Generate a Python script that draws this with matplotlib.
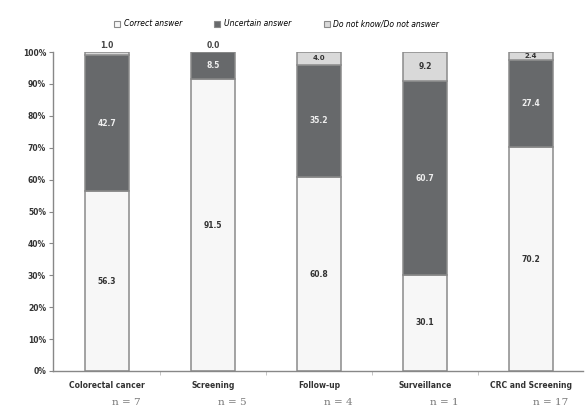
import matplotlib
matplotlib.use("Agg")
import matplotlib.pyplot as plt
import numpy as np

categories = ["Colorectal cancer", "Screening", "Follow-up", "Surveillance", "CRC and Screening"]
n_labels = ["n = 7", "n = 5", "n = 4", "n = 1", "n = 17"]
correct = [56.3, 91.5, 60.8, 30.1, 70.2]
uncertain = [42.7, 8.5, 35.2, 60.7, 27.4]
dont_know = [1.0, 0.0, 4.0, 9.2, 2.4]
series_names = ["Correct answer", "Uncertain answer", "Do not know/Do not answer"]

colors = ["#f7f7f7", "#67696b", "#d9d9d9"]
edge = "#8a8a8a"

fig = plt.figure(figsize=(5.85, 4.09), dpi=100)
ax = fig.add_axes([53 / 585, 1 - 371 / 409, 530 / 585, 319 / 409])

x = np.arange(len(categories))
w = 0.415
bottom = np.zeros(len(categories))
for vals, col in zip([correct, uncertain, dont_know], colors):
    ax.bar(x, vals, w, bottom=bottom, color=col, edgecolor=edge, linewidth=1.1)
    bottom += np.array(vals)

# value labels
for i in range(len(categories)):
    c, u, d = correct[i], uncertain[i], dont_know[i]
    ax.text(x[i], c / 2, f"{c:.1f}", ha="center", va="center", fontsize=5.5,
            color="#333333", fontweight="bold")
    ax.text(x[i], c + u / 2, f"{u:.1f}", ha="center", va="center", fontsize=5.5,
            color="#eeeeee", fontweight="bold")
    if d >= 2:
        ax.text(x[i], c + u + d / 2, f"{d:.1f}", ha="center", va="center",
                fontsize=5 if d < 5 else 5.5, color="#333333", fontweight="bold")
    else:
        ax.text(x[i], 100.6, f"{d:.1f}", ha="center", va="bottom", fontsize=5.5,
                color="#444444", fontweight="bold")

ax.set_xlim(-0.51, 4.49)
ax.set_ylim(0, 100)
ax.set_yticks(np.arange(0, 101, 10))
ax.set_yticklabels([f"{v}%" for v in range(0, 101, 10)], fontsize=5.5,
                   fontweight="bold", color="#333333")
ax.tick_params(axis="y", length=3, width=0.8, color="#888888", pad=2)
ax.set_xticks(np.arange(len(categories) - 1) + 0.5)
ax.set_xticklabels([])
ax.tick_params(axis="x", length=3, width=0.6, color="#bbbbbb")

for s in ["top", "right"]:
    ax.spines[s].set_visible(False)
for s in ["left", "bottom"]:
    ax.spines[s].set_color("#888888")
    ax.spines[s].set_linewidth(1.0)

for i, (cat, nl) in enumerate(zip(categories, n_labels)):
    ax.text(x[i], -3.0, cat, ha="center", va="top", fontsize=5.5,
            fontweight="bold", color="#333333", clip_on=False)
    ax.text(x[i] + 0.18, -8.6, nl, ha="center", va="top", fontsize=7.5,
            family="DejaVu Serif", color="#777777", clip_on=False)

handles = [plt.Rectangle((0, 0), 1, 1, facecolor=c, edgecolor=edge, linewidth=0.8)
           for c in colors]
fig.legend(handles, series_names, loc="center", bbox_to_anchor=(0.473, 1 - 24 / 409),
           ncol=3, frameon=False, handlelength=0.8, handleheight=0.8,
           columnspacing=4.2, handletextpad=0.5, prop={"size": 5.5, "style": "italic"})

fig.savefig("out.png", dpi=100)
